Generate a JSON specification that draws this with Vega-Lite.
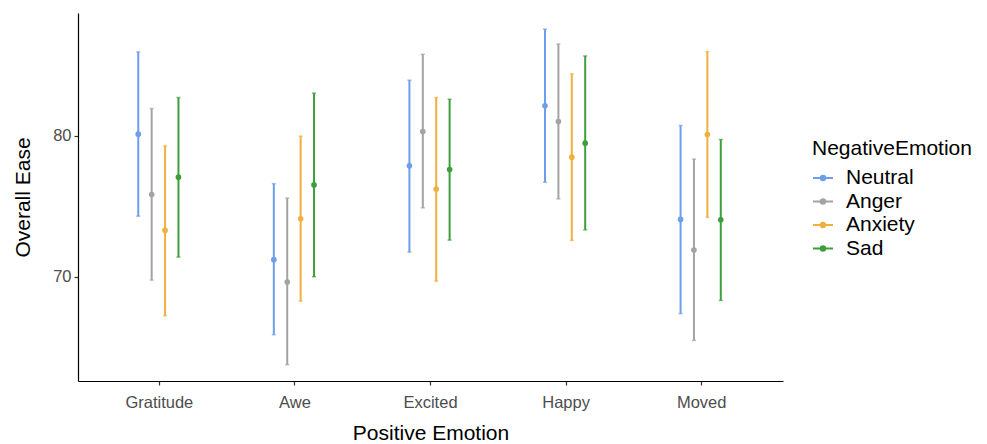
{
  "$schema": "https://vega.github.io/schema/vega-lite/v6.json",
  "width": 705,
  "height": 368,
  "autosize": {"type": "none"},
  "padding": {"left": 78, "top": 13, "right": 204, "bottom": 63},
  "background": "white",
  "config": {
    "view": {"stroke": null},
    "font": "Liberation Sans",
    "axis": {
      "grid": false,
      "domainColor": "#000000",
      "domainWidth": 1.2,
      "tickColor": "#333333",
      "tickSize": 4,
      "tickWidth": 1.2,
      "labelColor": "#4D4D4D",
      "labelFontSize": 16.5,
      "labelFont": "Liberation Sans",
      "titleFont": "Liberation Sans",
      "titleFontSize": 21,
      "titleFontWeight": "normal",
      "titleColor": "#000000"
    }
  },
  "data": {
    "values": [
      {"PositiveEmotion": "Gratitude", "NegativeEmotion": "Neutral", "mean": 80.12, "lo": 74.30, "hi": 85.96},
      {"PositiveEmotion": "Gratitude", "NegativeEmotion": "Anger", "mean": 75.84, "lo": 69.76, "hi": 81.94},
      {"PositiveEmotion": "Gratitude", "NegativeEmotion": "Anxiety", "mean": 73.29, "lo": 67.23, "hi": 79.29},
      {"PositiveEmotion": "Gratitude", "NegativeEmotion": "Sad", "mean": 77.07, "lo": 71.40, "hi": 82.72},
      {"PositiveEmotion": "Awe", "NegativeEmotion": "Neutral", "mean": 71.21, "lo": 65.89, "hi": 76.60},
      {"PositiveEmotion": "Awe", "NegativeEmotion": "Anger", "mean": 69.62, "lo": 63.76, "hi": 75.58},
      {"PositiveEmotion": "Awe", "NegativeEmotion": "Anxiety", "mean": 74.11, "lo": 68.27, "hi": 79.98},
      {"PositiveEmotion": "Awe", "NegativeEmotion": "Sad", "mean": 76.52, "lo": 70.00, "hi": 83.03},
      {"PositiveEmotion": "Excited", "NegativeEmotion": "Neutral", "mean": 77.87, "lo": 71.75, "hi": 83.95},
      {"PositiveEmotion": "Excited", "NegativeEmotion": "Anger", "mean": 80.31, "lo": 74.89, "hi": 85.79},
      {"PositiveEmotion": "Excited", "NegativeEmotion": "Anxiety", "mean": 76.22, "lo": 69.69, "hi": 82.72},
      {"PositiveEmotion": "Excited", "NegativeEmotion": "Sad", "mean": 77.61, "lo": 72.60, "hi": 82.60},
      {"PositiveEmotion": "Happy", "NegativeEmotion": "Neutral", "mean": 82.13, "lo": 76.71, "hi": 87.57},
      {"PositiveEmotion": "Happy", "NegativeEmotion": "Anger", "mean": 81.02, "lo": 75.53, "hi": 86.52},
      {"PositiveEmotion": "Happy", "NegativeEmotion": "Anxiety", "mean": 78.49, "lo": 72.58, "hi": 84.40},
      {"PositiveEmotion": "Happy", "NegativeEmotion": "Sad", "mean": 79.48, "lo": 73.33, "hi": 85.67},
      {"PositiveEmotion": "Moved", "NegativeEmotion": "Neutral", "mean": 74.07, "lo": 67.38, "hi": 80.73},
      {"PositiveEmotion": "Moved", "NegativeEmotion": "Anger", "mean": 71.89, "lo": 65.48, "hi": 78.35},
      {"PositiveEmotion": "Moved", "NegativeEmotion": "Anxiety", "mean": 80.09, "lo": 74.21, "hi": 85.98},
      {"PositiveEmotion": "Moved", "NegativeEmotion": "Sad", "mean": 74.04, "lo": 68.32, "hi": 79.74}
    ]
  },
  "encoding": {
    "x": {
      "field": "PositiveEmotion",
      "type": "nominal",
      "sort": ["Gratitude", "Awe", "Excited", "Happy", "Moved"],
      "scale": {"type": "band", "paddingInner": 0, "paddingOuter": 0.1},
      "axis": {"title": "Positive Emotion", "labelAngle": 0, "labelPadding": 9, "titlePadding": 12}
    },
    "xOffset": {
      "field": "NegativeEmotion",
      "type": "nominal",
      "sort": ["Neutral", "Anger", "Anxiety", "Sad"],
      "scale": {"type": "band", "paddingInner": 0, "paddingOuter": 0, "range": [40, 93.6]}
    },
    "color": {
      "field": "NegativeEmotion",
      "type": "nominal",
      "sort": ["Neutral", "Anger", "Anxiety", "Sad"],
      "scale": {"domain": ["Neutral", "Anger", "Anxiety", "Sad"], "range": ["#6D9EEB", "#A3A3A3", "#F0B040", "#3C9F3C"]},
      "legend": {
        "title": "NegativeEmotion",
        "orient": "none",
        "legendX": 734,
        "legendY": 125,
        "titleFontSize": 21,
        "titleFontWeight": "normal",
        "titleColor": "#000000",
        "titlePadding": 8,
        "labelFontSize": 21,
        "labelColor": "#000000",
        "labelOffset": 12,
        "rowPadding": 2.5,
        "symbolType": "M-1,0H1M-0.22,0A0.22,0.22 0 1,1 0.22,0A0.22,0.22 0 1,1 -0.22,0Z",
        "symbolSize": 400,
        "symbolStrokeWidth": 2,
        "encode": {
          "symbols": {
            "update": {
              "stroke": {"scale": "color", "field": "value"},
              "fill": {"scale": "color", "field": "value"}
            }
          }
        }
      }
    }
  },
  "layer": [
    {
      "mark": {"type": "rule", "strokeWidth": 2},
      "encoding": {
        "y": {
          "field": "lo",
          "type": "quantitative",
          "scale": {"domain": [62.6, 88.72], "nice": false, "zero": false},
          "axis": {"title": "Overall Ease", "values": [70, 80], "titlePadding": 19, "labelPadding": 3}
        },
        "y2": {"field": "hi"}
      }
    },
    {
      "mark": {"type": "tick", "thickness": 1.5, "size": 4, "orient": "horizontal"},
      "encoding": {"y": {"field": "lo", "type": "quantitative"}}
    },
    {
      "mark": {"type": "tick", "thickness": 1.5, "size": 4, "orient": "horizontal"},
      "encoding": {"y": {"field": "hi", "type": "quantitative"}}
    },
    {
      "mark": {"type": "circle", "size": 32, "opacity": 1},
      "encoding": {"y": {"field": "mean", "type": "quantitative"}}
    }
  ]
}
